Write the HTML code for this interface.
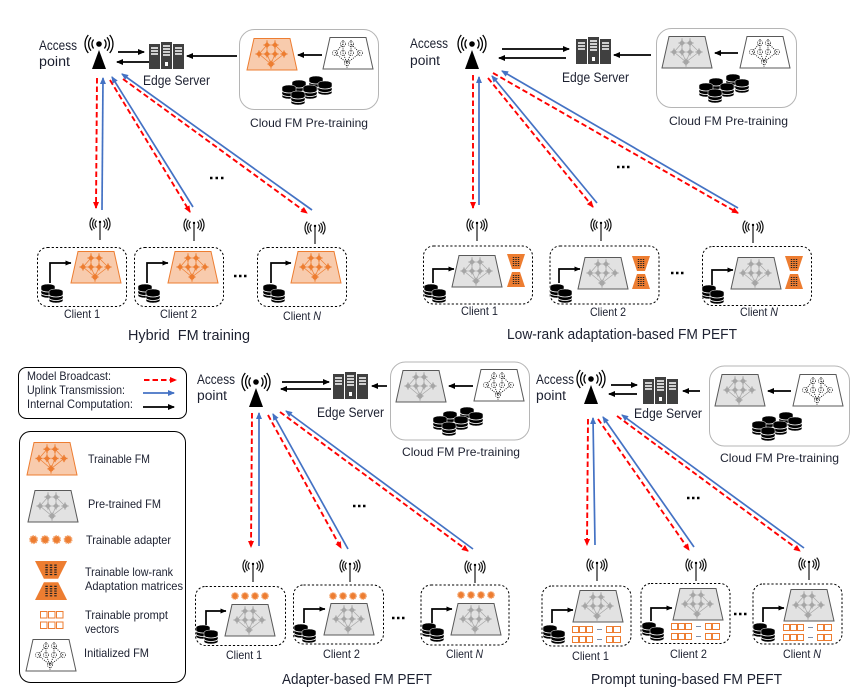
<!DOCTYPE html>
<html><head><meta charset="utf-8"><style>
html,body{margin:0;padding:0;background:#fff}
svg{display:block}
text{font-family:"Liberation Sans",sans-serif;fill:#1c2030}
.a{font-size:13.5px}.c{font-size:12px}.t{font-size:15px}.l{font-size:12px}
.k{stroke:#000;stroke-width:1.7;fill:none}
.r{stroke:#f00;stroke-width:1.9;stroke-dasharray:5.5 3;fill:none}
.b{stroke:#4472c4;stroke-width:1.7;fill:none}
.d{fill:#fff;stroke:#000;stroke-width:1;stroke-dasharray:2.2 2}
.cl{fill:#fff;stroke:#b5b5b5;stroke-width:1}
</style></head><body>
<svg width="865" height="696" viewBox="0 0 865 696" xmlns="http://www.w3.org/2000/svg">
<defs>
<marker id="mk" markerUnits="userSpaceOnUse" markerWidth="8" markerHeight="8" refX="7" refY="4" orient="auto"><path d="M1 1L8 4L1 7Z" fill="#000"/></marker>
<marker id="ms" markerUnits="userSpaceOnUse" markerWidth="6" markerHeight="6" refX="5.5" refY="3" orient="auto"><path d="M0 .5L6 3L0 5.5Z" fill="#000"/></marker>
<marker id="mb" markerUnits="userSpaceOnUse" markerWidth="8" markerHeight="8" refX="7" refY="4" orient="auto"><path d="M1 1L8 4L1 7Z" fill="#4472c4"/></marker>
<marker id="mr" markerUnits="userSpaceOnUse" markerWidth="8" markerHeight="8" refX="7" refY="4" orient="auto"><path d="M1 1L8 4L1 7Z" fill="#f00"/></marker>
<g id="ap"><circle r="2.8" fill="#000"/><path d="M5.4-4.5A7 7 0 0 1 5.4 4.5M8-6.7A10.5 10.5 0 0 1 8 6.7M10.7-9A14 14 0 0 1 10.7 9M-5.4-4.5A7 7 0 0 0-5.4 4.5M-8-6.7A10.5 10.5 0 0 0-8 6.7M-10.7-9A14 14 0 0 0-10.7 9" fill="none" stroke="#000" stroke-width="1.3"/><path d="M0 6L7 25H-7Z" fill="#000"/></g>
<g id="ant"><path d="M3.5-3.5A5 5 0 0 1 3.5 3.5M5.5-5A7.5 7.5 0 0 1 5.5 5M7.7-6.4A10 10 0 0 1 7.7 6.4M-3.5-3.5A5 5 0 0 0-3.500 3.500M-5.5-5A7.5 7.5 0 0 0-5.5 5M-7.7-6.4A10 10 0 0 0-7.7 6.4" fill="none" stroke="#111" stroke-width="1.2"/><path d="M0-2V16" stroke="#000" stroke-width="1.1"/><circle cy="-2" r="1.2" fill="#000"/></g>
<g id="srv"><rect width="11" height="25" y="2" fill="#404040"/><rect x="12" width="11" height="27" fill="#404040"/><rect x="24" width="11" height="25" y="2" fill="#404040"/><path d="M2 6h7M2 9h7M2 12h7M14 4h7M14 7h7M14 10h7M14 13h7M26 6h7M26 9h7M26 12h7" stroke="#fff" stroke-width="1.4"/><rect x="16" y="20" width="3" height="4" fill="#fff"/></g>
<g id="cy"><path d="M0 2.500A7 2.500 0 0 1 14 2.500V11.500A7 2.500 0 0 1 0 11.500Z" fill="#000" stroke="#fff" stroke-width=".5"/><path d="M0 5.500A7 2.500 0 0 0 14 5.500M0 9A7 2.500 0 0 0 14 9" stroke="#fff" stroke-width=".8" fill="none"/></g>
<g id="db2"><use href="#cy"/><use href="#cy" x="8" y="5"/></g>
<g id="db5"><use href="#cy" x="27" y="0"/><use href="#cy" x="36" y="5"/><use href="#cy" x="10" y="4"/><use href="#cy" x="0" y="9"/><use href="#cy" x="21" y="9"/><use href="#cy" x="9" y="15"/></g>
<g id="net"><path d="M20 2V7M28 2V7M20 7L12 16M20 7L20 16M28 7L28 16M28 7L37 16M12 16L24 26M20 16L24 26M28 16L24 26M37 16L24 26M24 26V31" fill="none" stroke-width=".7"/><path d="M16.5 7h7M24.500 7h7M8.500 16h7M16.500 16h7M24.500 16h7M33.500 16h7M20.500 26h7M20 3.500v7M28 3.500v7M12 12.500v7M20 12.500v7M28 12.500v7M37 12.500v7M24 22.500v7" fill="none" stroke-width="1.3"/><g stroke="none"><circle cx="20" cy="7" r="2.200"/><circle cx="28" cy="7" r="2.200"/><circle cx="12" cy="16" r="2.200"/><circle cx="20" cy="16" r="2.200"/><circle cx="28" cy="16" r="2.200"/><circle cx="37" cy="16" r="2.200"/><circle cx="24" cy="26" r="2.600"/></g></g>
<g id="fO"><path d="M7 .5H43L50 32H0Z" fill="#f8cbad" stroke="#ed7d31" stroke-width="1"/><use href="#net" fill="#ed7d31" stroke="#ed7d31"/></g>
<g id="fG"><path d="M7 .5H43L50 32H0Z" fill="#e2e2e2" stroke="#595959" stroke-width="1"/><use href="#net" fill="#a6a6a6" stroke="#a6a6a6"/></g>
<g id="fW"><path d="M7 .5H43L50 32H0Z" fill="#fff" stroke="#595959" stroke-width="1"/><path d="M20 3V7M28 3V7M20 7L12 16L24 26L37 16L28 7M20 7L20 16L24 26M28 7L28 16L24 26M24 26V31" fill="none" stroke="#111" stroke-width=".9" stroke-dasharray="1 1.200"/><g fill="none" stroke="#111" stroke-width=".7" stroke-dasharray="1 1"><circle cx="20" cy="7" r="2.500"/><circle cx="28" cy="7" r="2.500"/><circle cx="12" cy="16" r="2.500"/><circle cx="20" cy="16" r="2.500"/><circle cx="28" cy="16" r="2.500"/><circle cx="37" cy="16" r="2.500"/><circle cx="24" cy="26" r="2.500"/></g></g>
<g id="hg"><path d="M0 0H18L13 15H5ZM5 18H13L18 33H0Z" fill="#ed7d31"/><path d="M6.500 3V12M9 3V12M11.500 3V12M6.500 21V30M9 21V30M11.500 21V30" stroke="#222" stroke-width="1.400" stroke-dasharray="1 1"/></g>
<g id="ad"><g fill="#ed7d31" stroke="#f4a670" stroke-width="1.400" stroke-dasharray="1.300 .7"><circle cx="4" cy="4" r="3.200"/><circle cx="14" cy="4" r="3.200"/><circle cx="24" cy="4" r="3.200"/><circle cx="34" cy="4" r="3.200"/></g></g>
<g id="pr"><g fill="#fff" stroke="#ed7d31" stroke-width="1"><rect x=".5" y=".5" width="6" height="6"/><rect x="7.500" y=".5" width="6" height="6"/><rect x="14.500" y=".5" width="6" height="6"/><rect x="34.500" y=".5" width="6" height="6"/><rect x="41.500" y=".5" width="7" height="6"/><rect x=".5" y="10.500" width="6" height="6"/><rect x="7.500" y="10.500" width="6" height="6"/><rect x="14.500" y="10.500" width="6" height="6"/><rect x="34.500" y="10.500" width="6" height="6"/><rect x="41.500" y="10.500" width="7" height="6"/></g><path d="M25 3.500H30M25 13.500H30" stroke="#7f8fa9" stroke-width="1"/></g>
</defs>

<!-- Panel 1 -->
<text class="a" x="39" y="50" textLength="38" lengthAdjust="spacingAndGlyphs">Access</text>
<text class="a" x="39" y="66" textLength="31" lengthAdjust="spacingAndGlyphs">point</text>
<use href="#ap" x="99" y="44"/>
<path class="k" d="M118 52H144" marker-end="url(#mk)"/><path class="k" d="M149 62H117" marker-end="url(#mk)"/>
<use href="#srv" x="149" y="42"/>
<text class="a" x="143" y="85" textLength="67" lengthAdjust="spacingAndGlyphs">Edge Server</text>
<rect class="cl" x="239.500" y="29.500" width="139" height="80" rx="15"/>
<path class="k" d="M237 56H187" marker-end="url(#mk)"/>
<use href="#fO" x="247" y="38"/>
<path class="k" d="M322 55H298" marker-end="url(#mk)"/>
<use href="#fW" x="323" y="37"/>
<use href="#db5" x="282" y="76"/>
<text class="c" x="250" y="127" textLength="118" lengthAdjust="spacingAndGlyphs">Cloud FM Pre-training</text>
<path class="r" d="M97 78L96 208" marker-end="url(#mr)"/><path class="b" d="M102 210L103 78" marker-end="url(#mb)"/>
<path class="r" d="M110 80L190 212" marker-end="url(#mr)"/><path class="b" d="M193 207L112 77" marker-end="url(#mb)"/>
<path class="r" d="M123 79L307 213" marker-end="url(#mr)"/><path class="b" d="M312 210L122 74" marker-end="url(#mb)"/>
<path d="M210 178h2.500M215.500 178h2.500M221 178h2.500" stroke="#000" stroke-width="2.400"/>
<use href="#ant" x="100" y="224"/><use href="#ant" x="194" y="225"/><use href="#ant" x="315" y="228"/>
<rect class="d" x="37.500" y="247.500" width="89" height="59" rx="10"/><rect class="d" x="134.500" y="247.500" width="89" height="59" rx="10"/><rect class="d" x="257.500" y="247.500" width="89" height="59" rx="10"/>
<use href="#fO" x="71" y="251"/><use href="#fO" x="168" y="251"/><use href="#fO" x="291" y="251"/>
<path class="k" d="M50 283V263H71" marker-end="url(#ms)"/><path class="k" d="M147 283V263H168" marker-end="url(#ms)"/><path class="k" d="M271 283V263H291" marker-end="url(#ms)"/>
<use href="#db2" x="41" y="284"/><use href="#db2" x="138" y="284"/><use href="#db2" x="263" y="284"/>
<text class="c" x="64" y="318" textLength="36" lengthAdjust="spacingAndGlyphs">Client 1</text>
<text class="c" x="160" y="318" textLength="37" lengthAdjust="spacingAndGlyphs">Client 2</text>
<text class="c" x="283" y="320" textLength="38" lengthAdjust="spacingAndGlyphs">Client <tspan font-style="italic">N</tspan></text>
<path d="M234 276h2.500M239 276h2.500M244 276h2.500" stroke="#000" stroke-width="2.400"/>
<text class="t" x="128" y="340" textLength="122" lengthAdjust="spacingAndGlyphs" xml:space="preserve">Hybrid  FM training</text>

<!-- Panel 2 -->
<text class="a" x="410" y="48" textLength="38" lengthAdjust="spacingAndGlyphs">Access</text>
<text class="a" x="410" y="65" textLength="30" lengthAdjust="spacingAndGlyphs">point</text>
<use href="#ap" x="472" y="44"/>
<path class="k" d="M502 49H569" marker-end="url(#mk)"/><path class="k" d="M566 58H499" marker-end="url(#mk)"/>
<use href="#srv" x="576" y="37"/>
<text class="a" x="562" y="82" textLength="67" lengthAdjust="spacingAndGlyphs">Edge Server</text>
<rect class="cl" x="656.500" y="28.500" width="140" height="79" rx="15"/>
<path class="k" d="M651 55H614" marker-end="url(#mk)"/>
<use href="#fG" x="662" y="36"/>
<path class="k" d="M738 53H715" marker-end="url(#mk)"/>
<use href="#fW" x="740" y="36"/>
<use href="#db5" x="699" y="74"/>
<text class="c" x="669" y="125" textLength="119" lengthAdjust="spacingAndGlyphs">Cloud FM Pre-training</text>
<path class="r" d="M473 75V208" marker-end="url(#mr)"/><path class="b" d="M479 205V77" marker-end="url(#mb)"/>
<path class="r" d="M488 78L593 207" marker-end="url(#mr)"/><path class="b" d="M597 203L492 76" marker-end="url(#mb)"/>
<path class="r" d="M493 73L738 213" marker-end="url(#mr)"/><path class="b" d="M738 208L502 71" marker-end="url(#mb)"/>
<path d="M617 167h2.500M622 167h2.500M627 167h2.500" stroke="#000" stroke-width="2.400"/>
<use href="#ant" x="477" y="225"/><use href="#ant" x="601" y="225"/><use href="#ant" x="753" y="227"/>
<rect class="d" x="423.500" y="246" width="109" height="58" rx="10"/><rect class="d" x="550" y="246" width="109" height="58" rx="10"/><rect class="d" x="702.500" y="246.500" width="109" height="59" rx="10"/>
<use href="#fG" x="452" y="255"/><use href="#hg" x="507" y="254"/>
<use href="#fG" x="578" y="257"/><use href="#hg" x="632" y="256"/>
<use href="#fG" x="731" y="257"/><use href="#hg" x="785" y="256"/>
<path class="k" d="M433 283V269H454" marker-end="url(#ms)"/><path class="k" d="M559 283V269H580" marker-end="url(#ms)"/><path class="k" d="M712 285V270H733" marker-end="url(#ms)"/>
<use href="#db2" x="424" y="284"/><use href="#db2" x="550" y="284"/><use href="#db2" x="702" y="285"/>
<text class="c" x="461" y="315" textLength="37" lengthAdjust="spacingAndGlyphs">Client 1</text>
<text class="c" x="590" y="316" textLength="36" lengthAdjust="spacingAndGlyphs">Client 2</text>
<text class="c" x="740" y="316" textLength="38" lengthAdjust="spacingAndGlyphs">Client <tspan font-style="italic">N</tspan></text>
<path d="M671 273h2.500M676 273h2.500M681 273h2.500" stroke="#000" stroke-width="2.400"/>
<text class="t" x="507" y="339" textLength="230" lengthAdjust="spacingAndGlyphs">Low-rank adaptation-based FM PEFT</text>

<!-- Legend -->
<rect x="18.500" y="367.500" width="168" height="51" rx="8" fill="#fff" stroke="#000" stroke-width="1"/>
<text class="l" x="27" y="380" textLength="84" lengthAdjust="spacingAndGlyphs">Model Broadcast:</text>
<text class="l" x="27" y="394" textLength="98" lengthAdjust="spacingAndGlyphs">Uplink Transmission:</text>
<text class="l" x="27" y="408" textLength="106" lengthAdjust="spacingAndGlyphs">Internal Computation:</text>
<path class="r" d="M144 380H176" marker-end="url(#mr)"/><path class="b" d="M143 393H174" marker-end="url(#mb)"/><path class="k" d="M143 407H174" marker-end="url(#mk)"/>
<rect x="19.500" y="431.500" width="166" height="251" rx="11" fill="#fff" stroke="#000" stroke-width="1"/>
<use href="#fO" transform="translate(27 442) scale(1 1.03)"/>
<text class="l" x="88" y="463" textLength="62" lengthAdjust="spacingAndGlyphs">Trainable FM</text>
<use href="#fG" x="28" y="490"/>
<text class="l" x="88" y="508" textLength="73" lengthAdjust="spacingAndGlyphs">Pre-trained FM</text>
<use href="#ad" transform="translate(29 535) scale(1.15)"/>
<text class="l" x="86" y="544" textLength="85" lengthAdjust="spacingAndGlyphs">Trainable adapter</text>
<use href="#hg" transform="translate(35 561) scale(1.78 1.18)"/>
<text class="l" x="85" y="576" textLength="88" lengthAdjust="spacingAndGlyphs">Trainable low-rank</text>
<text class="l" x="85" y="590" textLength="98" lengthAdjust="spacingAndGlyphs">Adaptation matrices</text>
<g fill="#fff" stroke="#ed7d31" stroke-width="1"><rect x="40.500" y="611.500" width="6.500" height="6.500"/><rect x="48.500" y="611.500" width="6.500" height="6.500"/><rect x="56.500" y="611.500" width="6.500" height="6.500"/><rect x="40.500" y="622" width="6.500" height="6.500"/><rect x="48.500" y="622" width="6.500" height="6.500"/><rect x="56.500" y="622" width="6.500" height="6.500"/></g>
<text class="l" x="85" y="619" textLength="83" lengthAdjust="spacingAndGlyphs">Trainable prompt</text>
<text class="l" x="85" y="633" textLength="34" lengthAdjust="spacingAndGlyphs">vectors</text>
<use href="#fW" x="26" y="639"/>
<text class="l" x="84" y="657" textLength="65" lengthAdjust="spacingAndGlyphs">Initialized FM</text>

<!-- Panel 3 -->
<text class="a" x="197" y="384" textLength="38" lengthAdjust="spacingAndGlyphs">Access</text>
<text class="a" x="197" y="400" textLength="30" lengthAdjust="spacingAndGlyphs">point</text>
<use href="#ap" x="256" y="382"/>
<path class="k" d="M282 382H329" marker-end="url(#mk)"/><path class="k" d="M331 389H281" marker-end="url(#mk)"/>
<use href="#srv" x="333" y="372"/>
<text class="a" x="317" y="417" textLength="67" lengthAdjust="spacingAndGlyphs">Edge Server</text>
<rect class="cl" x="390.500" y="362" width="139" height="78" rx="15"/>
<path class="k" d="M387 386H372" marker-end="url(#mk)"/>
<use href="#fG" x="396" y="370"/>
<path class="k" d="M473 386H449" marker-end="url(#mk)"/>
<use href="#fW" x="474" y="369"/>
<use href="#db5" x="433" y="407"/>
<text class="c" x="402" y="456" textLength="118" lengthAdjust="spacingAndGlyphs">Cloud FM Pre-training</text>
<path class="r" d="M252 413L251 547" marker-end="url(#mr)"/><path class="b" d="M259 546V413" marker-end="url(#mb)"/>
<path class="r" d="M268 415L341 548" marker-end="url(#mr)"/><path class="b" d="M348 549L273 414" marker-end="url(#mb)"/>
<path class="r" d="M280 412L468 551" marker-end="url(#mr)"/><path class="b" d="M473 549L286 411" marker-end="url(#mb)"/>
<path d="M353 506h2.500M358 506h2.500M363 506h2.500" stroke="#000" stroke-width="2.400"/>
<use href="#ant" x="253" y="566"/><use href="#ant" x="350" y="566"/><use href="#ant" x="475" y="567"/>
<rect class="d" x="195.500" y="586.500" width="90" height="59" rx="10"/><rect class="d" x="293.500" y="585" width="90" height="59" rx="10"/><rect class="d" x="421" y="585" width="88" height="60" rx="10"/>
<use href="#ad" x="231" y="592"/><use href="#ad" x="329" y="592"/><use href="#ad" x="457" y="591"/>
<use href="#fG" x="225" y="604"/><use href="#fG" x="324" y="603"/><use href="#fG" x="451" y="603"/>
<path class="k" d="M206 625V611H226" marker-end="url(#ms)"/><path class="k" d="M304 623V609H325" marker-end="url(#ms)"/><path class="k" d="M432 623V609H452" marker-end="url(#ms)"/>
<use href="#db2" x="196" y="625"/><use href="#db2" x="294" y="624"/><use href="#db2" x="422" y="623"/>
<text class="c" x="226" y="659" textLength="36" lengthAdjust="spacingAndGlyphs">Client 1</text>
<text class="c" x="323" y="658" textLength="37" lengthAdjust="spacingAndGlyphs">Client 2</text>
<text class="c" x="446" y="658" textLength="37" lengthAdjust="spacingAndGlyphs">Client <tspan font-style="italic">N</tspan></text>
<path d="M392 618h2.500M397 618h2.500M402 618h2.500" stroke="#000" stroke-width="2.400"/>
<text class="t" x="282" y="684" textLength="150" lengthAdjust="spacingAndGlyphs">Adapter-based FM PEFT</text>

<!-- Panel 4 -->
<text class="a" x="536" y="384" textLength="38" lengthAdjust="spacingAndGlyphs">Access</text>
<text class="a" x="536" y="400" textLength="30" lengthAdjust="spacingAndGlyphs">point</text>
<use href="#ap" x="591" y="379"/>
<path class="k" d="M611 385H637" marker-end="url(#mk)"/><path class="k" d="M637 394H609" marker-end="url(#mk)"/>
<use href="#srv" x="643" y="377"/>
<text class="a" x="634" y="418" textLength="68" lengthAdjust="spacingAndGlyphs">Edge Server</text>
<rect class="cl" x="709.500" y="366" width="140" height="80" rx="15"/>
<path class="k" d="M700 391H683" marker-end="url(#mk)"/>
<use href="#fG" x="715" y="374"/>
<path class="k" d="M791 391H768" marker-end="url(#mk)"/>
<use href="#fW" x="793" y="374"/>
<use href="#db5" x="752" y="412"/>
<text class="c" x="720" y="462" textLength="119" lengthAdjust="spacingAndGlyphs">Cloud FM Pre-training</text>
<path class="r" d="M588 419L587 545" marker-end="url(#mr)"/><path class="b" d="M595 545L593 418" marker-end="url(#mb)"/>
<path class="r" d="M598 419L689 550" marker-end="url(#mr)"/><path class="b" d="M694 547L603 417" marker-end="url(#mb)"/>
<path class="r" d="M617 416L800 551" marker-end="url(#mr)"/><path class="b" d="M804 548L622 415" marker-end="url(#mb)"/>
<path d="M687 498h2.500M692 498h2.500M697 498h2.500" stroke="#000" stroke-width="2.400"/>
<use href="#ant" x="597" y="565"/><use href="#ant" x="696" y="565"/><use href="#ant" x="809" y="564"/>
<rect class="d" x="542" y="586" width="89" height="60" rx="10"/><rect class="d" x="641" y="583.500" width="89" height="60" rx="10"/><rect class="d" x="753" y="584" width="89" height="60" rx="10"/>
<use href="#fG" x="573" y="590"/><use href="#fG" x="673" y="588"/><use href="#fG" x="784" y="589"/>
<use href="#pr" x="572" y="626"/><use href="#pr" x="671" y="623"/><use href="#pr" x="783" y="624"/>
<path class="k" d="M552 623V610H573" marker-end="url(#ms)"/><path class="k" d="M651 621V608H672" marker-end="url(#ms)"/><path class="k" d="M763 622V608H784" marker-end="url(#ms)"/>
<use href="#db2" x="543" y="625"/><use href="#db2" x="642" y="622"/><use href="#db2" x="753" y="623"/>
<text class="c" x="572" y="660" textLength="37" lengthAdjust="spacingAndGlyphs">Client 1</text>
<text class="c" x="670" y="658" textLength="37" lengthAdjust="spacingAndGlyphs">Client 2</text>
<text class="c" x="783" y="658" textLength="38" lengthAdjust="spacingAndGlyphs">Client <tspan font-style="italic">N</tspan></text>
<path d="M734 614h2.500M739 614h2.500M744 614h2.500" stroke="#000" stroke-width="2.400"/>
<text class="t" x="591" y="684" textLength="191" lengthAdjust="spacingAndGlyphs">Prompt tuning-based FM PEFT</text>
</svg>
</body></html>
